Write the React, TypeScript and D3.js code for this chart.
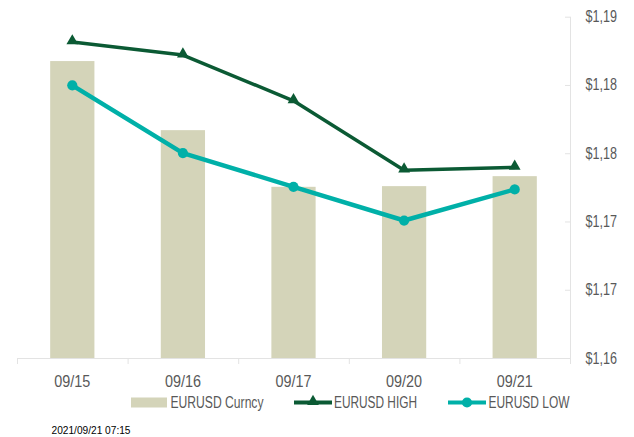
import React from 'react';
import * as d3 from 'd3';

const dates = ['09/15', '09/16', '09/17', '09/20', '09/21'];
const closeValues = [1.18175, 1.17669, 1.17254, 1.17259, 1.17332];
const highValues = [1.18315, 1.18219, 1.17884, 1.17376, 1.17396];
const lowValues = [1.17997, 1.17501, 1.17254, 1.17007, 1.17235];
const yTicks = [1.16, 1.165, 1.17, 1.175, 1.18, 1.185];
const yTickLabels = ['$1,16', '$1,17', '$1,17', '$1,18', '$1,18', '$1,19'];
const legendLabels = ['EURUSD Curncy', 'EURUSD HIGH', 'EURUSD LOW'];
const timestamp = '2021/09/21 07:15';

const W = 634;
const H = 437;
const left = 17;
const right = 570;
const top = 16.7;
const bottom = 358;

const barColor = '#d4d4b9';
const highColor = '#0b5a34';
const lowColor = '#00b0a8';
const axisColor = '#e3e3e3';
const textColor = '#595959';
const font = '"Liberation Sans", Arial, sans-serif';

// condensed text (the original uses a narrow office font)
const Label = ({ x, y, w, anchor = 'start', size = 16, fill = textColor, children }: any) => (
	<text
		x={x}
		y={y}
		textAnchor={anchor}
		dominantBaseline='central'
		fill={fill}
		textLength={w}
		lengthAdjust='spacingAndGlyphs'
		style={{ fontFamily: font, fontSize: size }}
	>
		{children}
	</text>
);

const App = () => {
	const x = d3.scaleBand<string>().domain(dates).range([left, right]).padding(0);
	const y = d3.scaleLinear().domain([1.16, 1.185]).range([bottom, top]);
	const barW = x.bandwidth() * 0.4;
	const cx = (d: string) => (x(d) as number) + x.bandwidth() / 2;

	const line = d3
		.line<number>()
		.x((_, i) => cx(dates[i]))
		.y(d => y(d));

	const tri = d3.symbol().type(d3.symbolTriangle).size(60)();
	const circ = d3.symbol().type(d3.symbolCircle).size(82)();

	return (
		<svg width={W} height={H} style={{ position: 'absolute', left: 0, top: 0, background: '#fff' }}>
			{/* bars */}
			{dates.map((d, i) => (
				<rect
					key={d}
					x={cx(d) - barW / 2}
					y={y(closeValues[i])}
					width={barW}
					height={bottom - y(closeValues[i])}
					fill={barColor}
				/>
			))}

			{/* x axis */}
			<line x1={left} x2={right} y1={bottom + 0.5} y2={bottom + 0.5} stroke={axisColor} />
			{dates.map((d, i) => (
				<line
					key={'xt' + i}
					x1={(x(d) as number) + 0.5}
					x2={(x(d) as number) + 0.5}
					y1={bottom}
					y2={bottom + 6}
					stroke={axisColor}
				/>
			))}
			<line x1={right + 0.5} x2={right + 0.5} y1={bottom} y2={bottom + 6} stroke={axisColor} />
			{dates.map(d => (
				<Label key={'xl' + d} x={cx(d)} y={381} w={36} anchor='middle'>{d}</Label>
			))}

			{/* y axis on right */}
			<line x1={right + 0.5} x2={right + 0.5} y1={top} y2={bottom} stroke={axisColor} />
			{yTicks.map((t, i) => (
				<g key={'yt' + i}>
					<line x1={right - 5} x2={right} y1={y(t) + 0.5} y2={y(t) + 0.5} stroke={axisColor} />
					<Label x={585.5} y={y(t)} w={31.5}>{yTickLabels[i]}</Label>
				</g>
			))}

			{/* lines */}
			<path d={line(highValues) || ''} fill='none' stroke={highColor} strokeWidth={3.5} strokeLinejoin='round' />
			{highValues.map((v, i) => (
				<path key={'hm' + i} d={tri || ''} transform={`translate(${cx(dates[i])},${y(v) - 1})`} fill={highColor} />
			))}
			<path d={line(lowValues) || ''} fill='none' stroke={lowColor} strokeWidth={4.5} strokeLinejoin='round' />
			{lowValues.map((v, i) => (
				<path key={'lm' + i} d={circ || ''} transform={`translate(${cx(dates[i])},${y(v)})`} fill={lowColor} />
			))}

			{/* legend */}
			<rect x={131} y={397.5} width={36} height={10} fill={barColor} />
			<Label x={170.5} y={402.5} w={93}>{legendLabels[0]}</Label>

			<line x1={294} x2={332} y1={402.5} y2={402.5} stroke={highColor} strokeWidth={4} />
			<path d={tri || ''} transform='translate(313,401.5)' fill={highColor} />
			<Label x={334} y={402.5} w={83}>{legendLabels[1]}</Label>

			<line x1={448} x2={486} y1={402.5} y2={402.5} stroke={lowColor} strokeWidth={4} />
			<path d={circ || ''} transform='translate(467,402.5)' fill={lowColor} />
			<Label x={488.5} y={402.5} w={81}>{legendLabels[2]}</Label>

			<Label x={51.5} y={430} w={79} size={11.5} fill='#000'>{timestamp}</Label>
		</svg>
	);
};

export default App;
